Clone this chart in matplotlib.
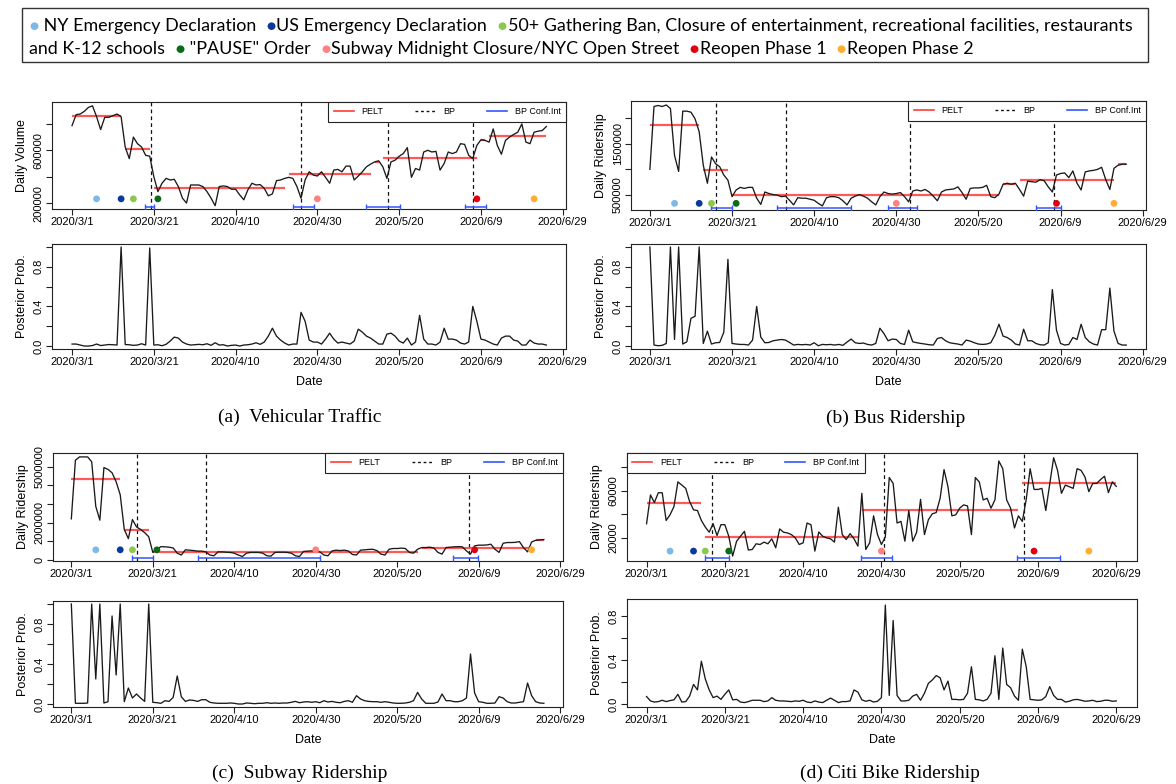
import numpy as np
import matplotlib
matplotlib.use('Agg')
import matplotlib.pyplot as plt
from matplotlib.lines import Line2D
from matplotlib.patches import Rectangle

plt.rcParams['font.family'] = ['Liberation Sans', 'DejaVu Sans']

W, H = 1176, 784

# ---- shared x axis (days since 2020/3/1) ----
tick_days = [0, 20, 40, 60, 80, 100, 120]
tick_labels = ['2020/3/1', '2020/3/21', '2020/4/10', '2020/4/30',
               '2020/5/20', '2020/6/9', '2020/6/29']

# ---- policy events ----
event_days = [6, 12, 15, 21, 60, 99, 113]
event_colors = ['#7db9e8', '#0a3a99', '#8cc84b', '#0b6b16',
                '#ff8080', '#e00012', '#ffad33']

# ---- (a) vehicular traffic (thousands) ----
traffic = np.array([
    787, 870, 875, 895, 925, 937, 855, 757, 850, 850,
    862, 875, 855, 625, 537, 700, 650, 625, 562, 555,
    400, 287, 350, 387, 375, 380, 325, 237, 200, 337,
    337, 337, 325, 287, 237, 180, 325, 330, 325, 305,
    305, 262, 225, 300, 350, 337, 340, 312, 255, 270,
    370, 375, 387, 395, 387, 325, 237, 375, 437, 412,
    405, 437, 395, 350, 450, 455, 437, 480, 480, 375,
    405, 437, 475, 495, 512, 520, 475, 387, 512, 525,
    555, 575, 620, 395, 462, 450, 587, 600, 587, 592,
    450, 500, 587, 575, 587, 650, 645, 562, 537, 637,
    680, 675, 662, 762, 637, 570, 675, 700, 720, 737,
    800, 662, 650, 737, 745, 750, 780]) * 1000
traffic_pelt_start = [0, 13, 20, 53, 74, 76, 100, 102]
traffic_pelt_end = [12, 19, 52, 73, 75, 99, 101, 116]
traffic_pelt_level = np.array([862, 610, 317, 420, 515, 542, 675, 705]) * 1000
traffic_bp = [19.2, 56, 77.2, 98]
traffic_ci_lo = [17.8, 54, 72, 96]
traffic_ci_hi = [20, 59.2, 80.2, 101.2]
traffic_post = [
    0.02, 0.02, 0.01, 0.0, 0.0, 0.005, 0.02, 0.005, 0.01, 0.015, 0.013, 0.01,
    1.0,
    0.015, 0.013, 0.007, 0.01, 0.023, 0.01,
    0.99,
    0.01, 0.013, 0.003, 0.017,
    0.05, 0.09, 0.08, 0.04,
    0.02, 0.01, 0.013, 0.017, 0.013, 0.023, 0.007, 0.033, 0.01, 0.013,
    0.0, 0.007, 0.01, 0.0, 0.01, 0.013, 0.02, 0.033, 0.017,
    0.04, 0.1, 0.18, 0.1, 0.06, 0.03, 0.01, 0.02, 0.02,
    0.34, 0.25, 0.06, 0.04, 0.04, 0.02,
    0.07, 0.13, 0.07, 0.03, 0.04, 0.03, 0.02, 0.05,
    0.17, 0.14, 0.1, 0.08, 0.05, 0.02, 0.02,
    0.12, 0.13, 0.10, 0.05, 0.03, 0.08, 0.01, 0.04, 0.31, 0.07, 0.02, 0.02, 0.01,
    0.04, 0.18, 0.07, 0.07, 0.06, 0.03, 0.02, 0.04,
    0.40, 0.25, 0.07, 0.06, 0.04, 0.02, 0.01,
    0.08, 0.1, 0.1, 0.06, 0.05, 0.01, 0.01, 0.06, 0.03, 0.02, 0.02, 0.01]

# ---- (b) bus ridership (millions) ----
bus = np.array([
    1.00, 2.22, 2.24, 2.22, 2.25, 2.18, 1.27, 0.96, 2.13, 2.13,
    2.11, 1.98, 1.73, 1.08, 0.73, 1.24, 1.11, 1.05, 0.89, 0.79,
    0.47, 0.60, 0.65, 0.63, 0.65, 0.65, 0.44, 0.32, 0.56, 0.53,
    0.51, 0.50, 0.47, 0.48, 0.40, 0.31, 0.45, 0.44, 0.44, 0.42,
    0.40, 0.34, 0.29, 0.45, 0.47, 0.47, 0.45, 0.39, 0.31, 0.44,
    0.48, 0.51, 0.48, 0.44, 0.37, 0.31, 0.47, 0.56, 0.53, 0.52,
    0.53, 0.55, 0.47, 0.37, 0.58, 0.60, 0.58, 0.61, 0.56, 0.48,
    0.39, 0.56, 0.60, 0.61, 0.62, 0.66, 0.55, 0.42, 0.63, 0.64,
    0.64, 0.65, 0.69, 0.47, 0.45, 0.52, 0.71, 0.73, 0.71, 0.73,
    0.61, 0.48, 0.77, 0.76, 0.75, 0.80, 0.78, 0.66, 0.56, 0.89,
    0.92, 0.93, 0.84, 0.97, 0.73, 0.60, 0.95, 0.97, 0.98, 1.00,
    1.04, 0.80, 0.61, 1.02, 1.08, 1.10, 1.10]) * 1e6
bus_pelt_start = [0, 13, 20, 86, 90, 114]
bus_pelt_end = [12, 19, 85, 89, 113, 116]
bus_pelt_level = np.array([1.855, 0.984, 0.494, 0.72, 0.80, 1.10]) * 1e6
bus_bp = [16, 33.2, 63.3, 98.5]
bus_ci_lo = [15, 31, 58, 94]
bus_ci_hi = [20, 49, 65, 100]
bus_post = [
    1.0, 0.01, 0.003, 0.007, 0.026, 1.0, 0.066, 1.0, 0.02, 0.043,
    0.28, 0.30, 1.0, 0.026, 0.15, 0.02, 0.033, 0.036, 0.14, 0.875,
    0.026, 0.02, 0.016, 0.016, 0.01, 0.06, 0.40, 0.09, 0.033, 0.036,
    0.053, 0.06, 0.066, 0.06, 0.036, 0.01, 0.016, 0.013, 0.016, 0.01,
    0.033, 0.003, 0.016, 0.013, 0.016, 0.01, 0.016, 0.007, 0.04, 0.07,
    0.033, 0.026, 0.03, 0.016, 0.01, 0.026, 0.18, 0.125, 0.053, 0.07,
    0.066, 0.026, 0.016, 0.16, 0.043, 0.033, 0.026, 0.02, 0.013, 0.01,
    0.076, 0.086, 0.053, 0.033, 0.026, 0.02, 0.01, 0.06, 0.05, 0.033,
    0.02, 0.016, 0.02, 0.033, 0.11, 0.22, 0.10, 0.086, 0.06, 0.02,
    0.01, 0.17, 0.053, 0.053, 0.026, 0.013, 0.01, 0.033, 0.57, 0.16,
    0.026, 0.01, 0.016, 0.086, 0.066, 0.22, 0.086, 0.043, 0.02, 0.01,
    0.165, 0.165, 0.585, 0.15, 0.026, 0.01, 0.01]

# ---- (c) subway ridership (millions) ----
subway = np.array([
    2.21, 5.35, 5.53, 5.53, 5.53, 5.27, 2.88, 2.14, 4.96, 4.86,
    4.68, 4.20, 3.50, 1.64, 1.15, 2.17, 1.78, 1.64, 1.47, 1.25,
    0.41, 0.58, 0.72, 0.71, 0.69, 0.65, 0.37, 0.27, 0.55, 0.53,
    0.51, 0.48, 0.48, 0.44, 0.27, 0.23, 0.44, 0.44, 0.42, 0.41,
    0.37, 0.27, 0.19, 0.37, 0.41, 0.41, 0.41, 0.37, 0.23, 0.21,
    0.41, 0.42, 0.42, 0.41, 0.37, 0.23, 0.19, 0.46, 0.48, 0.49,
    0.49, 0.44, 0.27, 0.23, 0.49, 0.53, 0.51, 0.53, 0.49, 0.30,
    0.27, 0.53, 0.55, 0.57, 0.58, 0.51, 0.32, 0.27, 0.58, 0.62,
    0.62, 0.64, 0.62, 0.41, 0.37, 0.58, 0.67, 0.67, 0.69, 0.65,
    0.41, 0.32, 0.67, 0.69, 0.71, 0.72, 0.71, 0.49, 0.32, 0.76,
    0.80, 0.80, 0.81, 0.85, 0.58, 0.41, 0.90, 0.94, 0.94, 0.95,
    0.99, 0.67, 0.44, 0.97, 1.06, 1.08, 1.10]) * 1e6
subway_pelt_start = [0, 13, 20, 86, 114]
subway_pelt_end = [12, 19, 85, 113, 116]
subway_pelt_level = np.array([4.33, 1.59, 0.41, 0.67, 1.08]) * 1e6
subway_bp = [16, 33, 97.6]
subway_ci_lo = [15, 31, 93.7]
subway_ci_hi = [20, 61, 99.8]
subway_post = [
    1.0, 0.007, 0.007, 0.007, 0.01, 1.0, 0.25, 1.0, 0.01, 0.023,
    0.88, 0.29, 1.0, 0.023, 0.16, 0.06, 0.10, 0.06, 0.026, 1.0,
    0.017, 0.013, 0.007, 0.033, 0.026, 0.066, 0.28, 0.073, 0.026, 0.04,
    0.036, 0.026, 0.043, 0.043, 0.017, 0.01, 0.007, 0.007, 0.007, 0.01,
    0.007, 0.0, 0.0, 0.01, 0.007, 0.003, 0.007, 0.007, 0.013, 0.007,
    0.01, 0.007, 0.01, 0.01, 0.017, 0.026, 0.013, 0.02, 0.023, 0.017,
    0.023, 0.013, 0.033, 0.02, 0.026, 0.017, 0.013, 0.026, 0.033, 0.017,
    0.083, 0.05, 0.033, 0.026, 0.023, 0.023, 0.017, 0.023, 0.017, 0.01,
    0.007, 0.007, 0.01, 0.017, 0.033, 0.116, 0.05, 0.007, 0.007, 0.007,
    0.02, 0.10, 0.033, 0.033, 0.023, 0.023, 0.033, 0.06, 0.50, 0.11,
    0.023, 0.017, 0.007, 0.007, 0.01, 0.073, 0.06, 0.023, 0.01, 0.01,
    0.017, 0.023, 0.21, 0.083, 0.023, 0.01, 0.007]

# ---- (d) citi bike ridership (thousands) ----
citibike = np.array([
    32.0, 56.4, 50.0, 58.3, 58.3, 34.8, 39.6, 46.6, 67.5, 64.8,
    62.0, 50.8, 43.8, 43.2, 34.8, 29.2, 24.8, 32.0, 22.0, 31.2,
    31.2, 21.4, 4.6, 17.2, 21.4, 25.6, 9.7, 10.2, 15.0, 14.4,
    16.4, 15.0, 19.2, 11.6, 27.6, 24.8, 24.2, 22.8, 20.0, 14.4,
    15.8, 32.6, 31.2, 8.8, 25.0, 21.4, 20.0, 19.2, 16.4, 46.0,
    22.8, 18.6, 23.6, 19.2, 13.0, 57.8, 10.2, 15.8, 38.7, 22.8,
    14.4, 20.8, 71.2, 66.2, 32.6, 34.0, 17.2, 43.2, 17.2, 24.8,
    52.7, 22.8, 35.4, 40.4, 41.5, 53.6, 77.9, 63.4, 38.7, 39.6,
    45.2, 48.0, 47.1, 22.8, 71.2, 67.5, 52.2, 53.6, 45.2, 52.2,
    85.2, 78.7, 52.2, 45.2, 28.4, 38.7, 34.0, 52.7, 78.7, 61.1,
    61.1, 62.0, 43.2, 65.6, 88.0, 77.3, 57.8, 64.8, 63.4, 62.0,
    78.7, 77.3, 71.7, 59.2, 66.2, 66.2, 69.5, 72.3, 58.4, 67.5, 63.7]) * 1000
citibike_pelt_start = [0, 15, 55, 96]
citibike_pelt_end = [14, 54, 95, 120]
citibike_pelt_level = np.array([49.4, 20.8, 43.5, 66.7]) * 1000
citibike_bp = [16.8, 60.7, 96.5]
citibike_ci_lo = [15, 54.7, 94.6]
citibike_ci_hi = [21, 62.7, 105.6]
citibike_post = [
    0.07, 0.03, 0.02, 0.024, 0.036, 0.024, 0.033, 0.04, 0.09, 0.02,
    0.024, 0.074, 0.18, 0.13, 0.39, 0.23, 0.13, 0.06, 0.074, 0.044,
    0.09, 0.13, 0.04, 0.044, 0.02, 0.015, 0.024, 0.036, 0.036, 0.036,
    0.024, 0.03, 0.06, 0.036, 0.03, 0.03, 0.027, 0.024, 0.03, 0.027,
    0.036, 0.02, 0.015, 0.03, 0.02, 0.015, 0.036, 0.056, 0.036, 0.015,
    0.024, 0.024, 0.03, 0.13, 0.11, 0.04, 0.027, 0.036, 0.02, 0.027,
    0.06, 0.90, 0.08, 0.76, 0.08, 0.03, 0.03, 0.036, 0.074, 0.09,
    0.036, 0.10, 0.19, 0.22, 0.26, 0.24, 0.13, 0.21, 0.044, 0.044,
    0.04, 0.044, 0.10, 0.34, 0.044, 0.04, 0.03, 0.044, 0.10, 0.44,
    0.044, 0.51, 0.18, 0.15, 0.074, 0.036, 0.50, 0.34, 0.044, 0.04,
    0.036, 0.04, 0.07, 0.16, 0.08, 0.044, 0.044, 0.02, 0.027, 0.04,
    0.044, 0.036, 0.027, 0.03, 0.036, 0.024, 0.027, 0.036, 0.036, 0.027, 0.03]


def px_axes(fig, x0, x1, y0, y1):
    return fig.add_axes([x0 / W, 1 - y1 / H, (x1 - x0) / W, (y1 - y0) / H])


def style_axes(ax):
    for s in ax.spines.values():
        s.set_linewidth(0.8)
        s.set_color('#222222')
    ax.tick_params(direction='out', length=4, width=0.8, labelsize=8,
                   pad=2, color='#222222')


def draw_panel(fig, top_box, bot_box, series, pelt_s, pelt_e, pelt_v, bp,
               ci_lo, ci_hi, post, dot_y, ci_y, ylim, yticks, ylabels,
               ylabel, xlim, bot_ylim, bot_ticks, legend_left=False):
    days = np.arange(len(series))
    ax = px_axes(fig, *top_box)
    ax.plot(days, series, color='#1a1a1a', lw=0.95, zorder=3)
    ax.hlines(pelt_v, pelt_s, pelt_e, colors='#ff3b3b', lw=1.6,
              alpha=0.85, zorder=2)
    for b in bp:
        ax.axvline(b, color='#111111', ls=(0, (3, 2.5)), lw=0.9, zorder=1)
    lo = np.array(ci_lo)
    hi = np.array(ci_hi)
    ax.errorbar((lo + hi) / 2, np.full(len(lo), ci_y), xerr=(hi - lo) / 2,
                fmt='none', ecolor='#3355ff', elinewidth=1.1, capsize=2.2,
                capthick=1.0, zorder=4)
    ax.scatter(event_days, np.full(len(event_days), dot_y), c=event_colors,
               s=24, zorder=5, linewidths=0)
    ax.set_xlim(xlim)
    ax.set_ylim(ylim)
    ax.set_xticks(tick_days)
    ax.set_xticklabels(tick_labels)
    ax.set_yticks(yticks)
    ax.set_yticklabels(ylabels, rotation=90, va='center')
    ax.set_ylabel(ylabel, fontsize=9, labelpad=4)
    style_axes(ax)

    handles = [Line2D([], [], color='#ff3b3b', lw=1.2),
               Line2D([], [], color='#111111', lw=1.0, ls=(0, (2, 2))),
               Line2D([], [], color='#3355ff', lw=1.2)]
    leg = ax.legend(handles, ['PELT', 'BP', 'BP Conf.Int'], ncol=3,
                    loc='upper left' if legend_left else 'upper right',
                    bbox_to_anchor=(0, 1) if legend_left else (1, 1),
                    borderaxespad=0, fontsize=6.5, frameon=True,
                    fancybox=False, edgecolor='#222222', framealpha=1,
                    handlelength=2.2, handletextpad=0.9, columnspacing=3.5,
                    borderpad=0.6)
    leg.get_frame().set_linewidth(0.8)
    leg.set_zorder(10)

    axb = px_axes(fig, *bot_box)
    axb.plot(np.arange(len(post)), post, color='#1a1a1a', lw=0.95)
    axb.set_xlim(xlim)
    axb.set_ylim(bot_ylim)
    axb.set_xticks(tick_days)
    axb.set_xticklabels(tick_labels)
    axb.set_yticks(bot_ticks)
    axb.set_yticklabels(['0.0' if t == 0 else ('%.1f' % t if i % 2 == 0 else '')
                         for i, t in enumerate(bot_ticks)],
                        rotation=90, va='center')
    axb.set_ylabel('Posterior Prob.', fontsize=9, labelpad=4)
    axb.set_xlabel('Date', fontsize=9, labelpad=6)
    style_axes(axb)


fig = plt.figure(figsize=(W / 100, H / 100), dpi=100)

post_ticks = [0, 0.2, 0.4, 0.6, 0.8, 1.0]

draw_panel(fig, (52, 566, 102, 209), (52, 566, 244, 349),
           traffic, traffic_pelt_start, traffic_pelt_end, traffic_pelt_level,
           traffic_bp, traffic_ci_lo, traffic_ci_hi, traffic_post,
           232000, 170000, (155000, 966000),
           [200000, 400000, 600000, 800000], ['200000', '', '600000', ''],
           'Daily Volume', (-4.9, 120.8), (-0.03, 1.03), post_ticks)

draw_panel(fig, (631, 1146, 101, 210), (631, 1146, 244, 349),
           bus, bus_pelt_start, bus_pelt_end, bus_pelt_level,
           bus_bp, bus_ci_lo, bus_ci_hi, bus_post,
           0.34e6, 0.255e6, (211000, 2327000),
           [500000, 1000000, 1500000, 2000000], ['500000', '', '1500000', ''],
           'Daily Ridership', (-4.6, 120.8), (-0.03, 1.03), post_ticks)

draw_panel(fig, (53, 563, 453, 561), (53, 563, 601, 707),
           subway, subway_pelt_start, subway_pelt_end, subway_pelt_level,
           subway_bp, subway_ci_lo, subway_ci_hi, subway_post,
           0.55e6, 0.106e6, (-0.05e6, 5.74e6),
           [0, 1e6, 2e6, 3e6, 4e6, 5e6], ['0', '', '2000000', '', '', '5000000'],
           'Daily Ridership', (-4.5, 120.7), (-0.03, 1.03), post_ticks)

draw_panel(fig, (627, 1137, 453, 561), (627, 1137, 599, 707),
           citibike, citibike_pelt_start, citibike_pelt_end, citibike_pelt_level,
           citibike_bp, citibike_ci_lo, citibike_ci_hi, citibike_post,
           8800, 3200, (400, 92000),
           [20000, 40000, 60000, 80000], ['20000', '', '60000', ''],
           'Daily Ridership', (-5.0, 125.3), (-0.025, 0.955),
           [0, 0.2, 0.4, 0.6, 0.8], legend_left=True)

# ---- captions ----
captions = ['(a)  Vehicular Traffic', '(b) Bus Ridership',
            '(c)  Subway Ridership', '(d) Citi Bike Ridership']
caption_pos = [(300, 417), (896, 418), (300, 773), (890, 773)]
for cap, (cx, cy) in zip(captions, caption_pos):
    fig.text(cx / W, 1 - cy / H, cap, ha='center', va='center',
             fontsize=14, family='Liberation Serif')

# ---- event legend box on top ----
event_names = ['NY Emergency Declaration', 'US Emergency Declaration',
               '50+ Gathering Ban, Closure of entertainment, recreational '
               'facilities, restaurants', 'and K-12 schools',
               '"PAUSE" Order', 'Subway Midnight Closure/NYC Open Street',
               'Reopen Phase 1', 'Reopen Phase 2']

box_x0, box_x1, box_y0, box_y1 = 22, 1148, 8, 62
fig.patches.append(Rectangle((box_x0 / W, 1 - box_y1 / H),
                             (box_x1 - box_x0) / W, (box_y1 - box_y0) / H,
                             transform=fig.transFigure, fill=False,
                             lw=1.0, edgecolor='#333333'))

lines = [
    [('dot', 0), ('txt', ' ' + event_names[0] + '  '), ('dot', 1),
     ('txt', event_names[1] + '  '), ('dot', 2), ('txt', event_names[2])],
    [('txt', event_names[3] + '  '), ('dot', 3), ('txt', ' ' + event_names[4] + '  '),
     ('dot', 4), ('txt', event_names[5] + '  '), ('dot', 5),
     ('txt', event_names[6] + '  '), ('dot', 6), ('txt', event_names[7])],
]
renderer = fig.canvas.get_renderer()
legend_font = 12.9
for line, ly in zip(lines, [26, 49]):
    x = box_x0 + 7
    for kind, val in line:
        if kind == 'dot':
            t = fig.text(x / W, 1 - ly / H, '\u25cf', color=event_colors[val],
                         fontsize=7.5, family='DejaVu Sans', ha='left',
                         va='center')
        else:
            t = fig.text(x / W, 1 - ly / H, val, color='black',
                         fontsize=legend_font, family='Lato', ha='left',
                         va='center')
        x = t.get_window_extent(renderer).x1 + 1

fig.savefig('out.png', dpi=100)
